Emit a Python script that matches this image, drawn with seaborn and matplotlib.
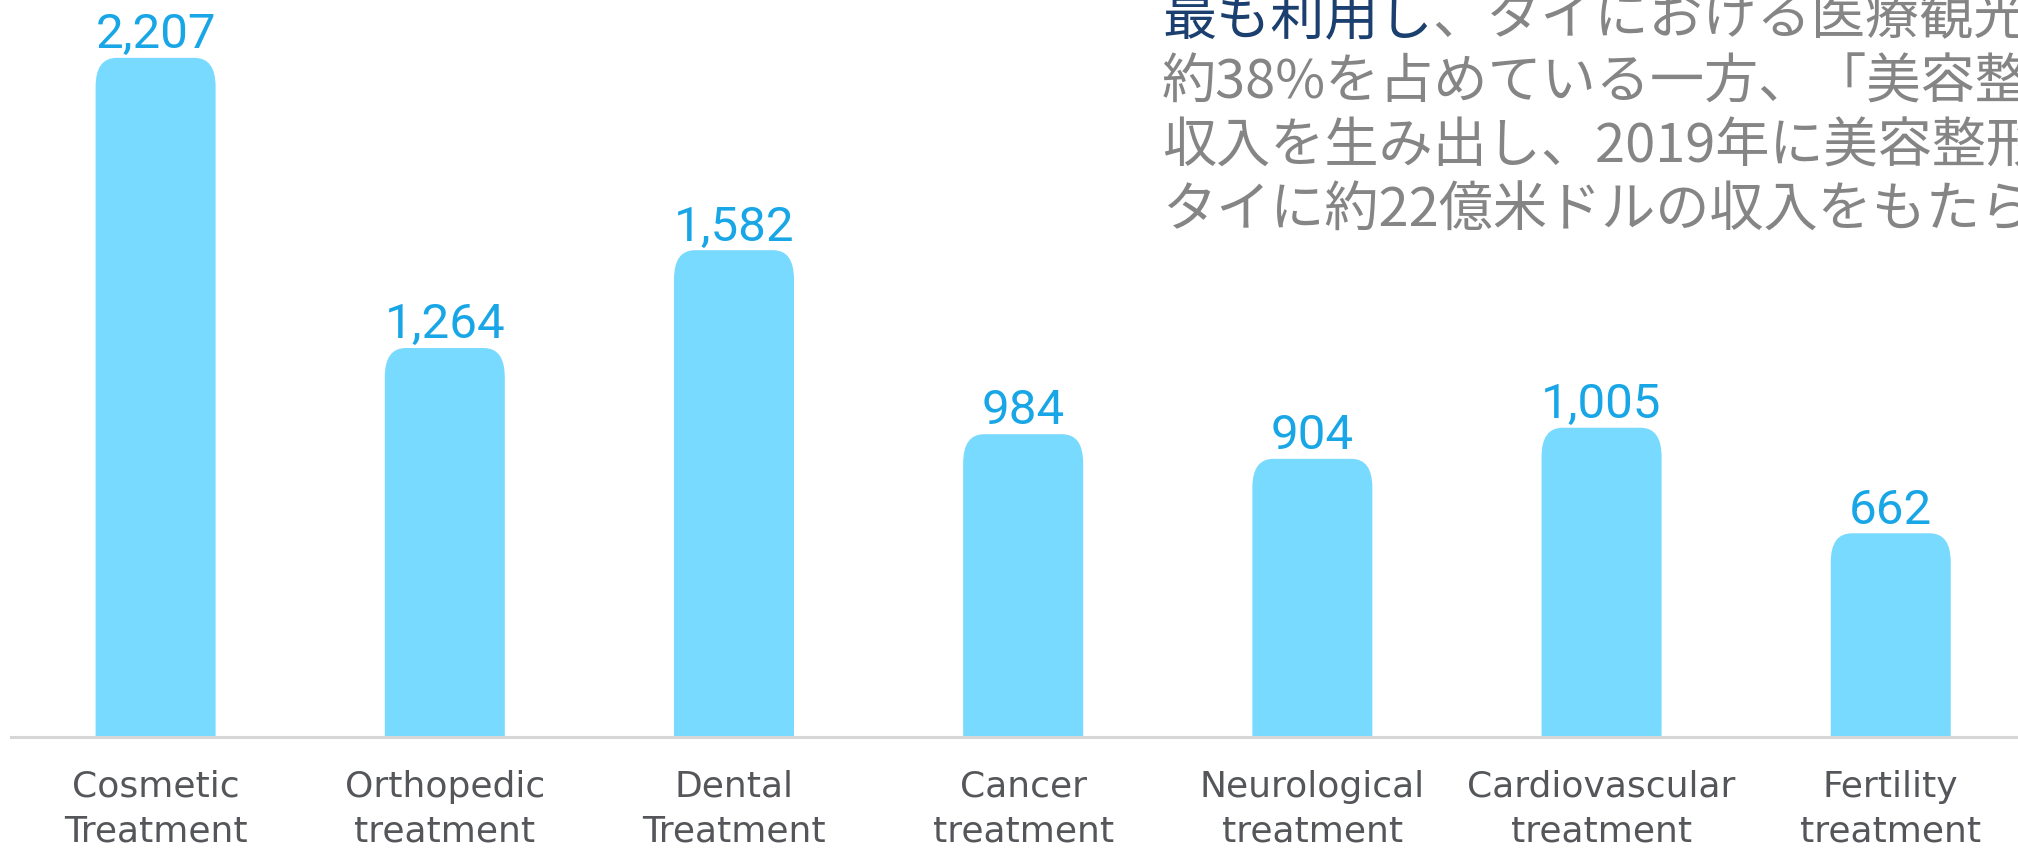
import matplotlib
matplotlib.use("Agg")
import matplotlib.pyplot as plt
import pandas as pd
import seaborn as sns
from matplotlib.patches import FancyBboxPatch

sns.set_theme(style="white")
plt.rcParams["font.family"] = ["Noto Sans CJK JP", "DejaVu Sans"]

DPI = 100
FIGSIZE = (20.18, 8.48)

categories = [
    "Cosmetic\nTreatment",
    "Orthopedic\ntreatment",
    "Dental\nTreatment",
    "Cancer\ntreatment",
    "Neurological\ntreatment",
    "Cardiovascular\ntreatment",
    "Fertility\ntreatment",
]
revenue = [2207, 1264, 1582, 984, 904, 1005, 662]

note_highlight = "最も利用し"
note_rest = "、タイにおける医療観光客"
note_lines = [
    "約38%を占めている一方、「美容整形",
    "収入を生み出し、2019年に美容整形で",
    "タイに約22億米ドルの収入をもたらした",
]

BAR_COLOR = "#78DAFE"
VALUE_COLOR = "#19A6E6"
LABEL_COLOR = "#54565A"
NAVY = "#1B3F6E"
GRAY = "#858585"

df = pd.DataFrame({"category": categories, "revenue": revenue})

fig = plt.figure(figsize=FIGSIZE, dpi=DPI)
ax = fig.add_axes([11 / 2018, 111 / 848, 1 - 11 / 2018, 737 / 848])

sns.barplot(data=df, x="category", y="revenue", color=BAR_COLOR,
            saturation=1, width=0.415, ax=ax)

ax.set_xlim(-0.5, 6.44)
ax.set_ylim(0, 2395)
ax.set_xlabel("")
ax.set_ylabel("")
ax.set_yticks([])
for side in ["left", "right", "top"]:
    ax.spines[side].set_visible(False)
ax.spines["bottom"].set_color("#D6D6D6")
ax.spines["bottom"].set_linewidth(2.2)
ax.tick_params(axis="x", length=0, pad=23.5)
ax.set_xticks(range(len(categories)), labels=categories, fontsize=26,
              family="DejaVu Sans", color=LABEL_COLOR, linespacing=1.4)

# rounded bar tops, built on the seaborn bars
p0 = ax.transData.transform((0, 0))
p1 = ax.transData.transform((1, 1))
ux = 1 / (p1[0] - p0[0])
uy = 1 / (p1[1] - p0[1])
rx, ry = 21 * ux, 29 * uy
bars = list(ax.patches)
for b in bars:
    x, w, h = b.get_x(), b.get_width(), b.get_height()
    b.set_visible(False)
    rounded = FancyBboxPatch((x, -ry), w, h + ry,
                             boxstyle=f"round,pad=0,rounding_size={rx}",
                             mutation_aspect=ry / rx,
                             facecolor=BAR_COLOR, edgecolor="none", linewidth=0)
    ax.add_patch(rounded)

for b, v in zip(bars, revenue):
    ax.annotate(f"{v:,}", (b.get_x() + b.get_width() / 2, v),
                xytext=(0, 7), textcoords="offset points",
                ha="center", va="baseline", fontsize=35.5,
                color=VALUE_COLOR, family=["Roboto", "DejaVu Sans"])

# text block at top right
x0 = 1162 / 2018
y_lines = [18.5, 83, 147.5, 211]
first = fig.text(x0, 1 - y_lines[0] / 848, note_highlight, color=NAVY,
                 fontsize=39, va="center", ha="left")
fig.canvas.draw()
bb = first.get_window_extent()
fig.text(bb.x1 / fig.bbox.width, 1 - y_lines[0] / 848, note_rest, color=GRAY,
         fontsize=39, va="center", ha="left")
for line, yc in zip(note_lines, y_lines[1:]):
    fig.text(x0, 1 - yc / 848, line, color=GRAY,
             fontsize=39, va="center", ha="left")

plt.savefig("out.png", dpi=DPI)
plt.close(fig)
